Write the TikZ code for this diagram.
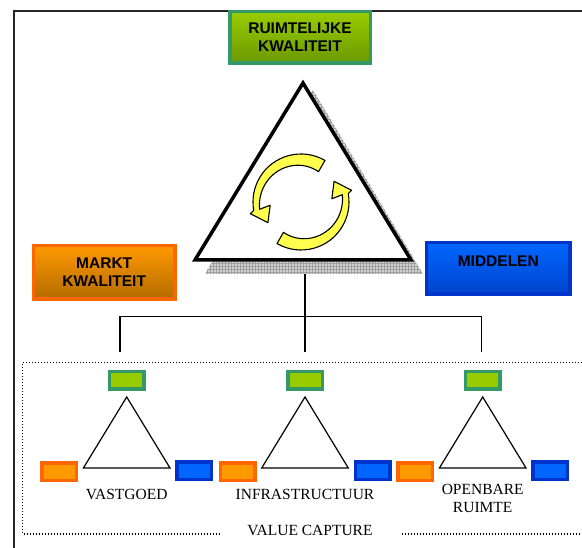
\documentclass[tikz,border=0pt]{standalone}
\usepackage{fontspec}
\setmainfont{Liberation Serif}
\setsansfont{Liberation Sans}
\usetikzlibrary{calc,patterns}

\definecolor{rkgreen}{HTML}{99CC00}
\definecolor{rkdark}{HTML}{6B9900}
\definecolor{rkedge}{HTML}{339966}
\definecolor{mkorange}{HTML}{FF9900}
\definecolor{mkbrown}{HTML}{B36B00}
\definecolor{mkedge}{HTML}{FF6600}
\definecolor{mdblue}{HTML}{0066FF}
\definecolor{mddark}{HTML}{0044CC}
\definecolor{mdedge}{HTML}{0033CC}
\definecolor{swirlfill}{HTML}{FFFF4D}

\begin{document}
\begin{tikzpicture}[x=1pt,y=1pt,line join=miter,
  boxtxt/.style={font=\sffamily\bfseries\fontsize{15.5}{18.3}\selectfont,align=center,inner sep=0pt},
  bigbox/.style={boxtxt,line width=3.5pt},
  tab/.style={line width=3.5pt,minimum width=34.5,minimum height=17.5,inner sep=0pt},
  greentab/.style={tab,draw=rkedge,fill=rkgreen},
  orangetab/.style={tab,draw=mkedge,fill=mkorange},
  bluetab/.style={tab,draw=mdedge,fill=mdblue},
  caption/.style={font=\fontsize{15.5}{18}\selectfont,align=center,inner sep=0pt},
  swirl/.style={fill=swirlfill,draw=black,line width=1.1pt,line join=round}]
\useasboundingbox (0,0) rectangle (582,548);
% outer frame
\draw[line width=1.5pt,black!85] (14.2,0) -- (14.2,537.2) -- (582,537.2);

% big triangle with its shadow
\fill[gray!35,postaction={pattern=grid,pattern color=gray!75}]
  (313,458) -- (205,274) -- (423,274) -- cycle;
\coordinate (apex) at (303,465);
\coordinate (bl) at (195,288);
\coordinate (br) at (411,288);
\filldraw[fill=white,line width=3.5pt] (apex) -- (bl) -- (br) -- cycle;

% the two turning arrows
\begin{scope}[shift={(301,346)}]
\foreach \r in {0,180}
  \filldraw[swirl,rotate=\r] (60:48) arc[start angle=60,end angle=190,radius=48]
    -- (193:52) -- (212:39) -- (186:31) -- (190:42)
    -- plot[domain=190:60,samples=25] (\x:{42-7*(190-\x)/130}) -- cycle;
\end{scope}

% quality boxes
\node[bigbox,draw=rkedge,top color=rkgreen,bottom color=rkdark,
  minimum width=140.5,minimum height=51.5] (rk) at (300,510.5) {RUIMTELIJKE\\KWALITEIT};
\node[bigbox,draw=mkedge,top color=mkorange,bottom color=mkbrown,
  minimum width=141.5,minimum height=53.5] (mk) at (104.2,275.5) {MARKT\\KWALITEIT};
\node[bigbox,draw=mdedge,top color=mdblue,bottom color=mddark,
  minimum width=143.5,minimum height=51.5,text height=11,text depth=15] (md) at (498.3,279.5) {MIDDELEN};

% fork to the three projects
\coordinate (stem) at (305,274);
\coordinate (fork) at (305,231.3);
\coordinate (lend) at (120,196.3);
\coordinate (mend) at (305,196.3);
\coordinate (rend) at (481.7,196.3);
\draw[line width=1.2pt] (stem) -- (fork) -- (mend);
\draw[line width=1.2pt] (lend) |- (fork) -| (rend);

% value capture frame
\draw[line width=1.2pt,dash pattern=on 1.2pt off 1.8pt]
  (582,185.7) -- (22.7,185.7) -- (22.7,14) -- (219,14)
  (401.7,14) -- (582,14);
\node[caption,anchor=base] (vc) at (310,12.3) {VALUE CAPTURE};

% small triangles
\foreach \c/\lbl/\ly [count=\i] in {126.7/VASTGOED/59.3,305/INFRASTRUCTUUR/59.3,482.7/{OPENBARE\\RUIMTE}/64}{
  \draw[line width=1.2pt] (\c,151) -- (\c-43.3,80) -- (\c+43.3,80) -- cycle;
  \node[greentab] (kw\i) at (\c,167.5) {};
  \node[orangetab] (mt\i) at (\c-67.5,76) {};
  \node[bluetab] (ml\i) at (\c+67.5,77) {};
  \node[caption,anchor=north] (cap\i) at (\c,\ly) {\lbl};
}
\end{tikzpicture}
\end{document}
